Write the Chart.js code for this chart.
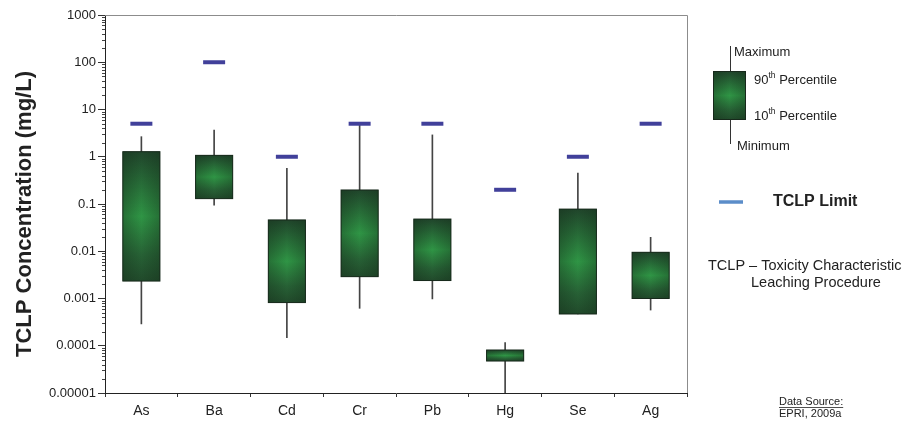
<!DOCTYPE html>
<html>
<head>
<meta charset="utf-8">
<title>TCLP Concentration</title>
<script src="https://cdn.jsdelivr.net/npm/chart.js@4/dist/chart.umd.min.js"></script>
<style>
  html, body { margin: 0; padding: 0; background: #ffffff; }
  #wrap { width: 906px; height: 425px; position: relative; }
</style>
</head>
<body>
<div id="wrap"><canvas id="c" width="906" height="425"></canvas></div>
<script>
// Metals tested
const metals = ['As', 'Ba', 'Cd', 'Cr', 'Pb', 'Hg', 'Se', 'Ag'];

// Leachate concentration statistics, mg/L
const minimum    = [0.00029, 0.095, 0.000148, 0.00062, 0.00098, 0.00001,  0.00047, 0.00057];
const pct10      = [0.00234, 0.13,  0.00082,  0.0029,  0.0024,  0.0000475, 0.00047, 0.001];
const pct90      = [1.28,    1.07,  0.046,    0.198,   0.048,   0.0000813, 0.078,   0.0095];
const maximum    = [2.66,    3.68,  0.57,     4.7,     2.9,     0.000116, 0.45,    0.0197];

// Regulatory TCLP limits, mg/L
const tclpLimit  = [5, 100, 1, 5, 5, 0.2, 1, 5];

// Decade tick labels on the concentration axis
const decadeLabels = ['0.00001', '0.0001', '0.001', '0.01', '0.1', '1', '10', '100', '1000'];
const decadeValues = decadeLabels.map(Number);

const FONT = "'Liberation Sans', Arial, sans-serif";

// Shades the box bodies, draws minor ticks, frame and the side legend
const decorPlugin = {
  id: 'decor',
  afterDatasetDraw(chart, args) {
    if (args.meta.type !== 'bar' || args.meta.label !== 'range') return;
    const ctx = chart.ctx;
    args.meta.data.forEach(el => {
      const p = el.getProps(['x', 'y', 'base', 'width'], true);
      const left = p.x - p.width / 2;
      const top = Math.min(p.y, p.base);
      const h = Math.abs(p.base - p.y);
      shadeBox(ctx, left, top, p.width, h);
    });
  },
  afterDraw(chart) {
    const ctx = chart.ctx;
    const area = chart.chartArea;
    const ys = chart.scales.y;
    ctx.save();
    // minor ticks on the log axis
    ctx.strokeStyle = '#444';
    ctx.lineWidth = 1;
    ys.ticks.forEach(t => {
      if (t.major) return;
      const py = Math.round(ys.getPixelForValue(t.value)) + 0.5;
      ctx.beginPath();
      ctx.moveTo(area.left - 3, py);
      ctx.lineTo(area.left, py);
      ctx.stroke();
    });
    // top and right frame
    ctx.strokeStyle = '#8c8c8c';
    ctx.beginPath();
    ctx.moveTo(area.left, area.top + 0.5);
    ctx.lineTo(area.right + 0.5, area.top + 0.5);
    ctx.lineTo(area.right + 0.5, area.bottom);
    ctx.stroke();

    // axis title
    ctx.fillStyle = '#222';
    ctx.font = 'bold 22px ' + FONT;
    ctx.textAlign = 'center';
    ctx.textBaseline = 'middle';
    ctx.save();
    ctx.translate(25, 214);
    ctx.rotate(-Math.PI / 2);
    ctx.fillText('TCLP Concentration (mg/L)', 0, 0);
    ctx.restore();

    // legend glyph: whisker + box
    ctx.strokeStyle = '#333';
    ctx.beginPath();
    ctx.moveTo(730.5, 46);
    ctx.lineTo(730.5, 144);
    ctx.stroke();
    shadeBox(ctx, 713.5, 71.5, 32, 48);

    ctx.fillStyle = '#222';
    ctx.textAlign = 'left';
    ctx.textBaseline = 'middle';
    ctx.font = '13px ' + FONT;
    ctx.fillText('Maximum', 734, 52);
    ctx.fillText('Minimum', 737, 146);
    supText(ctx, '90', 'th', ' Percentile', 754, 80);
    supText(ctx, '10', 'th', ' Percentile', 754, 116);

    // TCLP limit legend
    ctx.strokeStyle = '#5b8dc9';
    ctx.lineWidth = 3.5;
    ctx.beginPath();
    ctx.moveTo(719, 202);
    ctx.lineTo(743, 202);
    ctx.stroke();
    ctx.fillStyle = '#222';
    ctx.font = 'bold 16px ' + FONT;
    ctx.fillText('TCLP Limit', 773, 202);

    ctx.font = '14.5px ' + FONT;
    ctx.fillText('TCLP \u2013 Toxicity Characteristic', 708, 266);
    ctx.fillText('Leaching Procedure', 751, 283);

    ctx.font = '11px ' + FONT;
    ctx.fillText('Data Source:', 779, 402);
    const w = ctx.measureText('Data Source:').width;
    ctx.lineWidth = 0.8;
    ctx.strokeStyle = '#222';
    ctx.beginPath();
    ctx.moveTo(779, 407.5);
    ctx.lineTo(779 + w, 407.5);
    ctx.stroke();
    ctx.fillText('EPRI, 2009a', 779, 414);
    ctx.restore();
  }
};

function supText(ctx, base, sup, rest, x, y) {
  ctx.font = '13px ' + FONT;
  ctx.fillText(base, x, y);
  let cx = x + ctx.measureText(base).width;
  ctx.font = '8.5px ' + FONT;
  ctx.fillText(sup, cx, y - 4);
  cx += ctx.measureText(sup).width;
  ctx.font = '13px ' + FONT;
  ctx.fillText(rest, cx, y);
}

function shadeBox(ctx, left, top, w, h) {
  ctx.save();
  const gv = ctx.createLinearGradient(0, top, 0, top + h);
  gv.addColorStop(0, '#20452b');
  gv.addColorStop(0.5, '#2f9545');
  gv.addColorStop(0.8, '#276135');
  gv.addColorStop(1, '#214a2b');
  ctx.fillStyle = gv;
  ctx.fillRect(left, top, w, h);
  const gh = ctx.createLinearGradient(left, 0, left + w, 0);
  gh.addColorStop(0, 'rgba(20,45,25,0.35)');
  gh.addColorStop(0.5, 'rgba(20,45,25,0)');
  gh.addColorStop(1, 'rgba(20,45,25,0.35)');
  ctx.fillStyle = gh;
  ctx.fillRect(left, top, w, h);
  ctx.strokeStyle = '#17291b';
  ctx.lineWidth = 1;
  ctx.strokeRect(left, top, w, h);
  ctx.restore();
}

const whiskers = metals.map((_, i) => [minimum[i], maximum[i]]);
const boxes = metals.map((_, i) => [pct10[i], pct90[i]]);

new Chart(document.getElementById('c'), {
  type: 'bar',
  data: {
    labels: metals,
    datasets: [
      {
        type: 'line',
        label: 'TCLP Limit',
        data: tclpLimit,
        showLine: false,
        pointStyle: 'line',
        pointRadius: 11,
        pointBorderWidth: 4,
        pointBorderColor: '#41409a',
        pointBackgroundColor: '#41409a',
        order: 1
      },
      {
        label: 'range',
        data: boxes,
        grouped: false,
        backgroundColor: '#2a6e38',
        borderWidth: 0,
        categoryPercentage: 1,
        barPercentage: 0.51,
        order: 2
      },
      {
        label: 'whisker',
        data: whiskers,
        grouped: false,
        backgroundColor: '#444444',
        barThickness: 1,
        borderWidth: 0,
        order: 3
      }
    ]
  },
  options: {
    responsive: false,
    animation: false,
    events: [],
    layout: { padding: { left: 9, right: 219, top: 15, bottom: 0 } },
    plugins: { legend: { display: false }, tooltip: { enabled: false } },
    scales: {
      x: {
        offset: true,
        grid: { offset: true, drawOnChartArea: false, tickLength: 4, color: '#333' },
        border: { color: '#222', width: 1 },
        ticks: { color: '#222', font: { family: FONT, size: 14 }, padding: 6 },
        afterFit: s => { s.height = 32; }
      },
      y: {
        type: 'logarithmic',
        min: decadeValues[0],
        max: decadeValues[decadeValues.length - 1],
        afterBuildTicks: s => {
          const t = [];
          decadeValues.forEach((d, k) => {
            t.push({ value: d, major: true });
            if (k < decadeValues.length - 1) {
              for (let m = 2; m <= 9; m++) t.push({ value: d * m, major: false });
            }
          });
          s.ticks = t;
        },
        grid: {
          drawOnChartArea: false,
          tickLength: 7,
          tickColor: c => (c.tick && c.tick.major) ? '#333' : 'rgba(0,0,0,0)'
        },
        border: { color: '#222', width: 1 },
        ticks: {
          autoSkip: false,
          color: '#222',
          padding: 2,
          font: { family: FONT, size: 13 },
          callback: function (v) {
            const k = decadeValues.findIndex(d => Math.abs(d - v) / d < 1e-6);
            return k >= 0 ? decadeLabels[k] : '';
          }
        },
        afterFit: s => { s.width = 96; }
      }
    }
  },
  plugins: [decorPlugin]
});
</script>
</body>
</html>
